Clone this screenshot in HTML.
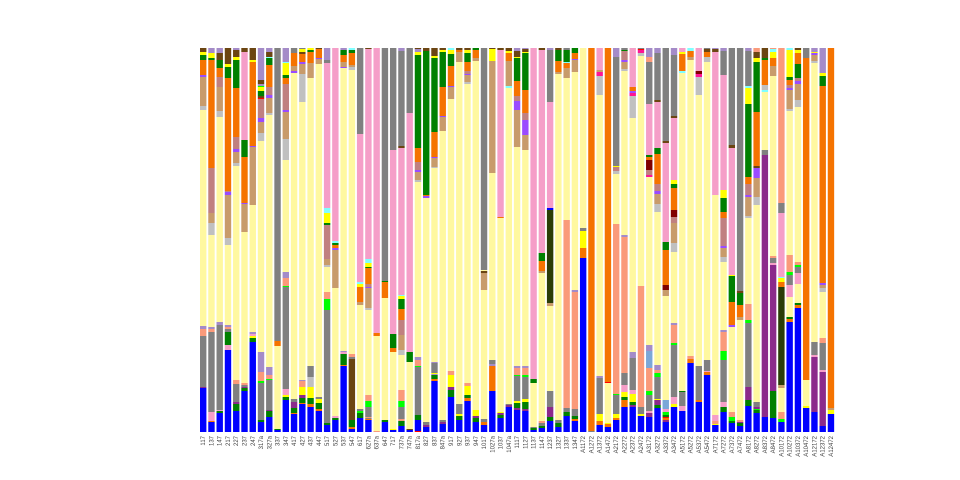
<!DOCTYPE html>
<html><head><meta charset="utf-8"><style>
html,body{margin:0;padding:0;background:#fff;width:960px;height:480px;overflow:hidden}
svg{display:block}
text{font-family:"Liberation Sans",sans-serif;font-size:6px;fill:#444}
</style></head><body>
<svg id="s" width="960" height="480" xmlns="http://www.w3.org/2000/svg"></svg>
<script>
const C={B:"#0000ff",G:"#808080",Y:"#fff8a0",S:"#fa9a7a",P:"#f59ec8",O:"#f57300",T:"#c89b6b",K:"#008000",N:"#6b4512",L:"#a48bc8",R:"#c08080",V:"#9a4bff",M:"#8b2a8b",D:"#2b3d07",W:"#c0c0c0",A:"#ffff00",E:"#00ff00",C:"#80ffff",X:"#800000",U:"#7ba7d8",Z:"#ff0000",H:"#ff1493"};
const labels="117 137 147 217 227 237 247 317a 327a 337 347 417 427 437 447 517 527 537 547 617 627a 637a 647 717 737a 747a 817a 827 837 847a 917 927 937 947 1017 1027a 1037 1047a 1117 1127 1137 1147 1237 1327 1337 1347 A1172 A1272 A1372 A1472 A2172 A2272 A2372 A2472 A3172 A3272 A3372 A3472 A5172 A5272 A5372 A5472 A7172 A7272 A7372 A7472 A8172 A8272 A8372 A8472 A10172 A10272 A10372 A10472 A12172 A12372 A12472".split(" ");
const D=[
"B388 M387 G336 S329 L326 Y110 W106 T77 V75 O60 K55 A52 N48",
"B422 O421 P412 G332 S329 L327 Y235 W223 T213 R168 O60 K58 A53 L48",
"B413 K411 P410 G325 L322 Y117 W111 T87 R77 O68 K60 N53 L48",
"B350 P345 K332 G329 S327 L325 Y245 W238 T195 V192 R191 O78 K67 A64 N48",
"B411 K404 M402 G384 S380 Y166 W163 T152 V149 R137 O88 K60 A57 N50 L48",
"B391 K388 M387 G385 S383 Y232 T204 V203 O157 K140 P52 N48",
"B342 K338 A336 P334 L332 Y205 T147 V146 O62 A60 N48",
"B422 K420 G383 E381 S372 L352 Y141 W133 T122 V118 R99 Z98 N96 K91 A87 E86 L84 N80 L48",
"B417 K411 M410 G380 E379 S375 L367 Y115 W113 T98 V95 R87 O65 K58 C57 N52 L48",
"B430 K429 Y346 O341 G48",
"B400 K397 A395 P389 G287 E286 S278 L272 Y160 W139 T112 V110 R84 O78 K75 A63 C62 L48",
"B414 O413 K408 M402 G399 Y73 V71 T66 O53 G48",
"B404 O403 K398 M395 A387 S381 L380 Y102 W74 T64 V62 O54 N52 A49 G48",
"B407 O404 K398 A387 W377 G366 Y78 T63 O52 K50 A48",
"B411 O409 K403 A399 G397 Y64 T59 V58 O49 N48",
"B425 K423 G310 E299 S292 Y267 W265 T259 R225 K223 A213 C208 P63 G60 L48",
"B420 K418 P416 Y288 T250 V248 O245 K243 C241 P48",
"B366 O365 K354 P352 L351 Y68 V67 T62 O55 K50 L48",
"B429 O427 K420 N359 G357 S354 Y70 W67 T65 O53 K50 C48",
"B418 K413 E411 G409 Y305 T302 O287 A284 C282 P134 G48",
"B420 O419 G418 S417 G407 E401 S395 Y310 W308 T288 V287 R284 O268 K267 A263 C259 P49 N48",
"S431 Y336 O333 P48",
"B422 K420 Y298 O282 K281 G48",
"B430 A429 Y352 O348 K334 P150 G48",
"B426 K421 S419 G407 E401 S390 Y355 W350 T335 R320 O309 K299 A296 C295 P148 N146 G51 L48",
"B430 N429 Y362 K352 P113 G48",
"Z431 B420 K415 G367 E366 S360 L357 Y182 W180 T172 V170 R162 O148 K55 A52 L49 N48",
"B427 M425 G422 Y198 V196 O195 K51 N48",
"B381 O379 K375 L374 A373 G363 L362 Y168 W167 T158 V157 O132 K58 A56 N48",
"B424 M422 G420 Y131 T117 V116 O87 K52 A50 N48",
"B397 K390 M387 A375 S371 Y99 T87 V86 O66 K54 A50 C48",
"B420 K416 A414 G404 Y62 T52 O50 N48",
"B401 O398 K395 A386 S383 Y84 W82 T75 V74 R71 O62 K53 A50 N48",
"B422 K418 M416 A410 Y61 T58 O50 K48",
"B425 O422 G419 Y290 T273 N271 Y270 G48",
"B391 O366 L364 G360 Y173 T61 A49 N48",
"B418 K415 M413 A412 Y218 O217 P50 N48",
"B407 M405 G404 Y88 C86 T61 O53 A51 N48",
"B410 M408 K403 A401 G376 E375 S368 L366 Y147 T110 V101 R96 O81 K58 A57 N51 L48",
"B411 M409 K402 A399 G377 E375 S368 L366 Y150 T135 V120 R113 O90 K53 A52 N49 L48",
"B430 K428 G427 Y383 K379 P48",
"B428 K426 G423 S421 Y273 T271 O261 K253 P50 N48",
"B421 K417 M407 G391 Y306 T303 D210 B208 P102 G50 L48",
"B427 K423 G420 Y74 T72 O61 K50 N48",
"B416 K412 G408 S220 Y78 T68 O63 C62 K50 G48",
"B421 O419 K416 G409 S292 L290 Y72 T60 V59 O53 K48",
"B258 O248 A231 G228 Y48",
"G431 O48",
"B425 O421 A414 G378 L376 Y95 W76 H72 T70 P48",
"B427 O424 A423 Y383 Z382 O48",
"B420 O418 A414 G395 E394 S224 Y174 W171 R167 A166 G57 L48",
"B407 O400 K397 A392 P385 G373 S237 L235 Y71 W69 T62 V60 R51 K50 G48",
"B407 M405 K402 A394 P390 G358 L352 Y118 W96 H93 V91 O87 P48",
"B416 A414 G407 S286 Y56 W53 H50 Z49 G48",
"B417 M413 P411 G395 E391 S368 U351 L345 Y177 H175 R170 X160 O157 K155 P104 G62 S57 L48",
"B408 K405 M400 A399 G377 E373 S370 L365 Y212 W204 T194 V191 R184 O154 K148 P102 N100 G53 L48",
"B422 M420 O418 Z417 K415 E412 P409 U400 Y296 T290 X285 O250 K242 P143 N141 G48",
"B407 A404 P397 G345 E343 S325 L323 Y252 W243 T223 R217 X210 O188 K184 A180 P118 N116 G55 L48",
"B411 P406 G392 K391 Y73 C71 O54 A52 P48",
"B363 O359 S356 Y60 T57 O51 C48",
"B402 O400 G366 Y95 W77 H74 X71 P48",
"B375 O372 P371 G360 Y62 W57 O52 N49 G48",
"B425 A424 S421 P415 Y195 P52 N49 L48",
"B412 K407 P402 G360 E351 S332 L330 Y262 W257 T248 V246 R218 O212 K198 A190 P75 G51 L48",
"B423 K421 E417 S412 Y327 V325 O302 K276 A275 P148 N145 G48",
"B426 K423 M422 S420 Y320 T317 O305 K293 N291 G48",
"B406 K400 M387 G323 E320 S304 Y218 W216 T197 V195 R184 O177 K104 A88 C86 G51 L48",
"B413 K410 E409 M407 G402 Y205 W197 T178 V168 N166 O112 K62 A58 N52 S48",
"B417 M155 G150 Y92 C90 W85 O60 K58 N48",
"B418 K391 M265 P263 G258 S256 Y76 T66 O58 A52 C49 S48",
"B422 E419 S412 Y388 T385 D287 O282 A278 C277 P213 G203 S48",
"B322 O319 K317 Y297 P285 G275 E272 S255 Y111 W109 T90 V88 R85 O80 K77 A50 C48",
"B308 O305 K303 Y284 P273 G267 E265 S262 Y107 W100 T84 V81 R78 K64 O53 A50 N48",
"B408 A406 Y380 O58 G48",
"B412 M357 P355 G342 Y63 W61 T55 V53 A52 L48",
"B426 M372 P370 G343 S338 Y292 W288 T285 V283 O86 K76 A73 L48",
"B414 A410 T408 O48"];
let h="";
const step=8.26,w=6.4;
D.forEach((s,i)=>{
 const x=200+i*step;let prev=432;
 s.split(" ").forEach(t=>{const c=t[0],y=+t.slice(1);
  if(prev>y)h+=`<rect x="${x.toFixed(2)}" y="${y}" width="${w}" height="${prev-y}" fill="${C[c]}"/>`;prev=y;});
 const cx=x+w/2+2;
 h+=`<text transform="translate(${cx.toFixed(2)},436) rotate(-90)" text-anchor="end">${labels[i]}</text>`;
});
document.getElementById("s").innerHTML=h;
</script>
</body></html>
